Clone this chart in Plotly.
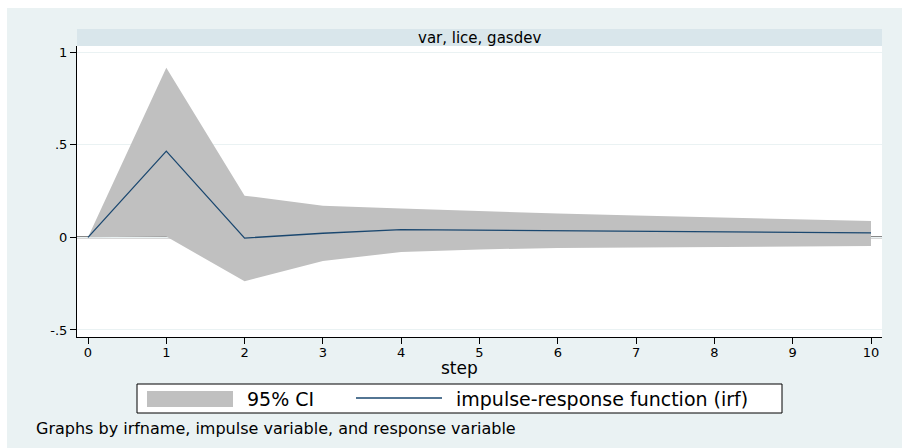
import plotly.graph_objects as go

# ---- data ----
steps = [0, 1, 2, 3, 4, 5, 6, 7, 8, 9, 10]
irf = [0.0, 0.465, -0.004, 0.022, 0.042, 0.039, 0.036, 0.033, 0.030, 0.027, 0.024]
ci_upper = [0.0, 0.915, 0.225, 0.170, 0.155, 0.140, 0.129, 0.118, 0.107, 0.097, 0.088]
ci_lower = [0.0, 0.004, -0.237, -0.128, -0.079, -0.065, -0.058, -0.054, -0.051, -0.049, -0.047]
x_ticks = [0, 1, 2, 3, 4, 5, 6, 7, 8, 9, 10]
y_ticks = [-0.5, 0, 0.5, 1]
y_tick_text = ["-.5", "0", ".5", "1"]
panel_title = "var, lice, gasdev"
legend_labels = ["95% CI", "impulse-response function (irf)"]
x_title = "step"
note = "Graphs by irfname, impulse variable, and response variable"

W, H = 902, 448
L, R, T, B = 77, 882, 46, 337  # plot area in pixels
X_RANGE = [-0.1405, 10.1405]
Y_RANGE = [-0.5378, 1.0324]


def px(x):
    return (x - L) / (R - L)


def py(y):
    return (B - y) / (B - T)


OUTER = "#EAF2F3"
STRIP = "#D9E6EB"
BAND = "#C0C0C0"
NAVY = "#1a476f"
FONT = "DejaVu Sans"

fig = go.Figure()

# CI band
fig.add_trace(go.Scatter(
    x=steps + steps[::-1], y=ci_upper + ci_lower[::-1],
    fill="toself", fillcolor=BAND, line=dict(width=0, color=BAND),
    mode="lines", hoverinfo="skip", showlegend=False, name=legend_labels[0]))
# IRF line
fig.add_trace(go.Scatter(
    x=steps, y=irf, mode="lines", line=dict(color=NAVY, width=1.3),
    showlegend=False, name=legend_labels[1]))

shapes = []
# white margins around outer panel (top and left)
shapes.append(dict(type="rect", xref="paper", yref="paper", x0=px(0), x1=px(W),
                   y0=py(8), y1=py(0), fillcolor="white", line_width=0, layer="below"))
shapes.append(dict(type="rect", xref="paper", yref="paper", x0=px(0), x1=px(7),
                   y0=py(H), y1=py(0), fillcolor="white", line_width=0, layer="below"))
# strip header
shapes.append(dict(type="rect", xref="paper", yref="paper", x0=0, x1=1,
                   y0=py(46), y1=py(29), fillcolor=STRIP, line_width=0, layer="below"))
# zero reference line (under the traces)
shapes.append(dict(type="line", xref="x", yref="y", x0=X_RANGE[0], x1=X_RANGE[1],
                   y0=0, y1=0, line=dict(color="#606060", width=2), layer="below"))
# legend box
shapes.append(dict(type="rect", xref="paper", yref="paper", x0=px(137), x1=px(782),
                   y0=py(413), y1=py(384), fillcolor="white",
                   line=dict(color="black", width=1)))
shapes.append(dict(type="rect", xref="paper", yref="paper", x0=px(147), x1=px(233),
                   y0=py(407), y1=py(391), fillcolor=BAND, line_width=0))
shapes.append(dict(type="line", xref="paper", yref="paper", x0=px(356), x1=px(442),
                   y0=py(398), y1=py(398), line=dict(color=NAVY, width=1.3)))

annotations = [
    dict(text=panel_title, xref="paper", yref="paper", x=0.5, y=py(37.5),
         xanchor="center", yanchor="middle", showarrow=False,
         font=dict(family=FONT, size=15, color="black")),
    dict(text=x_title, xref="paper", yref="paper", x=px(459), y=py(368),
         xanchor="center", yanchor="middle", showarrow=False,
         font=dict(family=FONT, size=17, color="black")),
    dict(text=legend_labels[0], xref="paper", yref="paper", x=px(245), y=py(398.5),
         xanchor="left", yanchor="middle", showarrow=False,
         font=dict(family=FONT, size=19, color="black")),
    dict(text=legend_labels[1], xref="paper", yref="paper", x=px(454), y=py(398.5),
         xanchor="left", yanchor="middle", showarrow=False,
         font=dict(family=FONT, size=19, color="black")),
    dict(text=note, xref="paper", yref="paper", x=px(34), y=py(428),
         xanchor="left", yanchor="middle", showarrow=False,
         font=dict(family=FONT, size=16, color="black")),
]

fig.update_layout(
    width=W, height=H,
    margin=dict(l=L, r=W - R, t=T, b=H - B, pad=0),
    paper_bgcolor=OUTER, plot_bgcolor="white",
    showlegend=False,
    shapes=shapes, annotations=annotations,
    font=dict(family=FONT, color="black"),
    xaxis=dict(range=X_RANGE, tickvals=x_ticks, ticks="outside",
               ticklen=6, tickcolor="black", showline=True, linecolor="black",
               linewidth=1, showgrid=False, zeroline=False,
               ticklabelstandoff=-3,
               tickfont=dict(family=FONT, size=13, color="black")),
    yaxis=dict(range=Y_RANGE, tickvals=y_ticks, ticktext=y_tick_text,
               ticks="outside", ticklen=6, tickcolor="black", showline=True,
               linecolor="black", linewidth=1, showgrid=True, gridcolor=OUTER,
               gridwidth=1, zeroline=False,
               tickfont=dict(family=FONT, size=13, color="black")),
)

fig.write_html(
    "out.html",
    config={"displayModeBar": False},
    post_script="document.body.style.margin='0px';document.body.style.overflow='hidden';",
)
